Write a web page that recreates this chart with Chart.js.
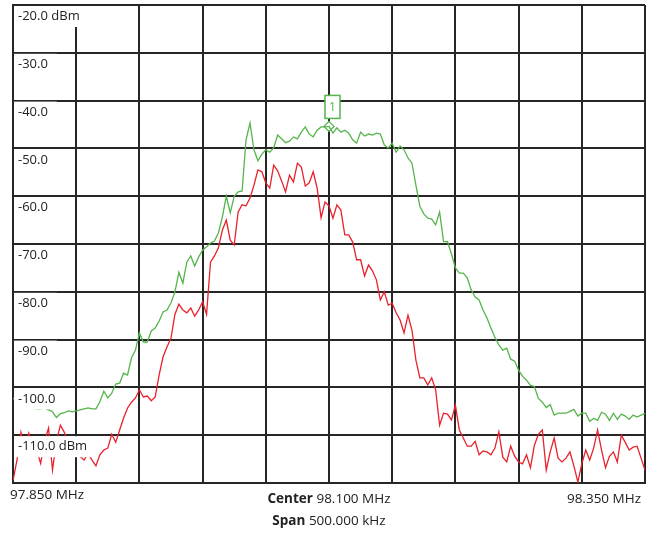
<!DOCTYPE html>
<html><head><meta charset="utf-8">
<style>html,body{margin:0;padding:0;background:#fff;} #wrap{width:647px;height:533px;position:relative;}</style>
<script src="https://cdn.jsdelivr.net/npm/chart.js@4.4.0/dist/chart.umd.min.js"></script>
</head><body><div id="wrap"><canvas id="c" width="647" height="533"></canvas></div>
<script>
const START_MHZ = 97.85;
const STOP_MHZ = 98.35;
const POINTS = 161;
const freqMHz = Array.from({length: POINTS}, (_, i) => START_MHZ + (STOP_MHZ - START_MHZ) * i / (POINTS - 1));

const greenTrace = [
 -102.2,-103.0,-103.7,-104.1,-103.9,-104.3,-104.5,-104.5,-104.3,-104.7,
 -105.1,-106.3,-105.5,-105.3,-104.9,-105.1,-104.9,-104.7,-104.5,-104.3,
 -104.5,-104.5,-103.0,-100.8,-102.2,-101.2,-99.3,-99.1,-97.0,-97.4,
 -93.8,-92.2,-88.6,-90.5,-90.5,-88.2,-87.6,-86.1,-84.2,-83.8,
 -82.3,-80.0,-75.9,-78.2,-73.8,-72.5,-74.6,-72.7,-71.3,-70.6,
 -69.8,-69.4,-67.7,-64.4,-60.0,-63.5,-60.0,-59.1,-58.9,-48.2,
 -44.7,-50.3,-52.6,-51.2,-50.3,-50.8,-49.9,-47.2,-48.0,-48.8,
 -48.5,-47.6,-48.0,-46.6,-45.5,-47.0,-47.6,-46.2,-45.5,-45.5,
 -45.4,-46.8,-45.7,-46.6,-46.2,-46.8,-48.2,-48.9,-46.6,-47.4,
 -47.0,-47.2,-46.8,-47.0,-49.3,-49.9,-48.9,-50.8,-49.5,-50.3,
 -52.0,-53.1,-57.7,-62.1,-63.7,-64.6,-64.8,-66.0,-63.3,-69.5,
 -69.5,-72.1,-75.0,-76.1,-76.1,-77.1,-79.6,-81.1,-81.7,-83.8,
 -85.5,-87.6,-89.5,-91.1,-92.2,-91.8,-94.1,-94.5,-96.4,-97.7,
 -98.5,-99.6,-99.8,-102.3,-103.1,-104.2,-103.6,-105.8,-105.4,-105.4,
 -105.4,-105.0,-104.6,-106.0,-105.4,-105.4,-107.1,-106.5,-106.9,-105.2,
 -105.6,-106.9,-105.4,-106.7,-105.6,-106.0,-106.7,-105.8,-106.2,-105.8,-105.4
];

const redTrace = [
 -119.5,-115.2,-109.4,-113.1,-109.6,-112.4,-113.1,-115.9,-111.2,-108.5,
 -117.3,-111.2,-107.9,-109.4,-112.4,-113.8,-112.9,-114.5,-115.2,-113.8,
 -115.2,-116.4,-114.1,-113.1,-112.7,-109.8,-111.5,-108.9,-106.4,-104.3,
 -103.1,-102.2,-100.5,-102.0,-101.8,-102.8,-102.0,-97.4,-93.6,-91.5,
 -89.7,-84.7,-82.6,-83.8,-84.4,-83.4,-85.1,-83.8,-82.1,-84.7,
 -73.8,-72.5,-70.8,-67.1,-65.0,-69.2,-70.2,-63.3,-61.8,-62.0,
 -60.4,-57.7,-54.5,-54.9,-57.2,-58.3,-53.5,-54.7,-56.8,-59.1,
 -55.6,-57.0,-53.1,-53.9,-57.9,-57.2,-54.9,-58.3,-64.5,-61.2,
 -62.0,-64.6,-61.8,-62.9,-68.1,-68.1,-69.6,-73.3,-73.3,-76.7,
 -74.4,-75.6,-77.5,-81.7,-80.0,-82.8,-82.4,-84.4,-85.9,-88.6,
 -84.9,-88.0,-94.3,-98.0,-98.0,-99.5,-98.0,-100.5,-107.9,-105.4,
 -105.6,-106.8,-103.7,-108.9,-110.6,-112.3,-112.3,-111.3,-114.1,-113.3,
 -113.5,-114.1,-112.7,-109.3,-114.6,-115.6,-112.3,-114.4,-115.6,-116.0,
 -114.1,-116.8,-112.1,-109.8,-108.9,-117.3,-113.5,-110.6,-114.8,-115.6,
 -114.8,-113.5,-116.4,-119.8,-116.0,-113.1,-115.2,-112.7,-108.9,-113.1,
 -116.8,-114.4,-113.5,-115.6,-110.0,-111.5,-113.1,-112.5,-112.3,-114.8,-117.3
];

const yTickValues = [-20, -30, -40, -50, -60, -70, -80, -90, -100, -110, -120];
const yTickLabels = ['-20.0 dBm', '-30.0', '-40.0', '-50.0', '-60.0', '-70.0', '-80.0', '-90.0', '-100.0', '-110.0 dBm'];
const xGridMHz = [97.85, 97.90, 97.95, 98.00, 98.05, 98.10, 98.15, 98.20, 98.25, 98.30, 98.35];
const startLabel = '97.850 MHz';
const stopLabel = '98.350 MHz';
const centerLabel = ['Center', ' 98.100 MHz'];
const spanLabel = ['Span', ' 500.000 kHz'];
const markerIndex = 80;
const markerText = '1';

const GREEN = '#55b54b';
const RED = '#e8212b';
const GRID = '#262626';
const TEXT = '#222';

const overlay = {
  id: 'overlay',
  afterDatasetsDraw(chart) {
    const {ctx, chartArea: a, scales: {x, y}} = chart;
    ctx.save();
    ctx.font = '13px "Open Sans"';
    ctx.textBaseline = 'middle';
    ctx.textAlign = 'left';
    yTickLabels.forEach((t, k) => {
      const py = y.getPixelForValue(yTickValues[k]);
      const w = ctx.measureText(t).width;
      ctx.fillStyle = '#fff';
      ctx.fillRect(a.left + 1, py + 1, w + 13, 21);
      ctx.fillStyle = TEXT;
      ctx.fillText(t, a.left + 5, py + 11.5);
    });
    // marker box
    const mx = x.getPixelForValue(freqMHz[markerIndex]);
    const my = y.getPixelForValue(greenTrace[markerIndex]);
    ctx.fillStyle = '#fff';
    ctx.strokeStyle = GREEN;
    ctx.lineWidth = 1.5;
    ctx.fillRect(mx - 4, my - 31, 15, 23);
    ctx.strokeRect(mx - 4, my - 31, 15, 23);
    ctx.fillStyle = GREEN;
    ctx.font = '12px "Open Sans"';
    ctx.textAlign = 'center';
    ctx.fillText(markerText, mx + 3.5, my - 19);
    ctx.restore();
  },
  afterDraw(chart) {
    const {ctx, chartArea: a} = chart;
    ctx.save();
    ctx.fillStyle = TEXT;
    ctx.textBaseline = 'middle';
    const reg = '13.5px "Open Sans"';
    const bold = 'bold 13.5px "Open Sans"';
    ctx.font = reg;
    ctx.textAlign = 'left';
    ctx.fillText(startLabel, a.left - 3, a.bottom + 12);
    ctx.textAlign = 'right';
    ctx.fillText(stopLabel, a.right - 4, a.bottom + 16);
    ctx.textAlign = 'left';
    const cx = (a.left + a.right) / 2;
    const drawPair = (pair, py) => {
      ctx.font = bold; const w1 = ctx.measureText(pair[0]).width;
      ctx.font = reg; const w2 = ctx.measureText(pair[1]).width;
      const sx = cx - (w1 + w2) / 2;
      ctx.font = bold; ctx.fillText(pair[0], sx, py);
      ctx.font = reg; ctx.fillText(pair[1], sx + w1, py);
    };
    drawPair(centerLabel, a.bottom + 16);
    drawPair(spanLabel, a.bottom + 38);
    ctx.restore();
  }
};

const toXY = arr => arr.map((v, i) => ({x: freqMHz[i], y: v}));

new Chart(document.getElementById('c'), {
  type: 'line',
  data: {
    datasets: [
      {data: toXY(greenTrace), borderColor: GREEN, borderWidth: 1.3, pointRadius: 0, tension: 0, fill: false},
      {data: toXY(redTrace), borderColor: RED, borderWidth: 1.3, pointRadius: 0, tension: 0, fill: false},
      {data: [{x: freqMHz[markerIndex], y: greenTrace[markerIndex]}], showLine: false,
       pointStyle: 'rectRot', pointRadius: 5, borderColor: GREEN, backgroundColor: '#fff', pointBorderWidth: 1.3}
    ]
  },
  options: {
    responsive: false,
    animation: false,
    devicePixelRatio: 1,
    layout: {autoPadding: false, padding: {left: 13, right: 2, top: 5, bottom: 50}},
    plugins: {legend: {display: false}, tooltip: {enabled: false}},
    scales: {
      x: {
        type: 'linear', min: START_MHZ, max: STOP_MHZ,
        afterBuildTicks: s => { s.ticks = xGridMHz.map(v => ({value: v})); },
        ticks: {display: false},
        grid: {color: GRID, lineWidth: 2, drawTicks: false, tickLength: 0},
        border: {display: true, color: GRID, width: 2}
      },
      y: {
        type: 'linear', min: -120, max: -20,
        afterBuildTicks: s => { s.ticks = yTickValues.map(v => ({value: v})); },
        ticks: {display: false},
        grid: {color: GRID, lineWidth: 2, drawTicks: false, tickLength: 0},
        border: {display: true, color: GRID, width: 2}
      }
    }
  },
  plugins: [overlay]
});
</script>
</body></html>
